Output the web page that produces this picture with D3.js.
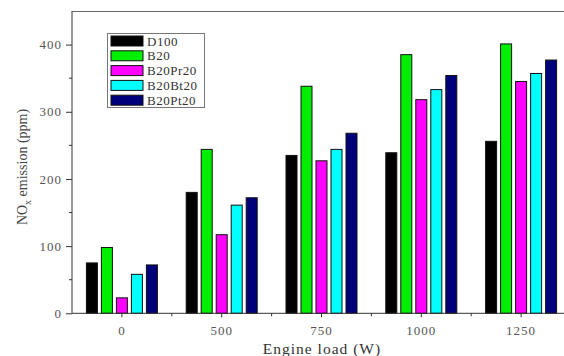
<!DOCTYPE html>
<html>
<head>
<meta charset="utf-8">
<script src="https://cdn.jsdelivr.net/npm/d3@7"></script>
<style>
  html, body { margin: 0; padding: 0; background: #fff; }
  svg { display: block; }
</style>
</head>
<body>
<svg id="chart" width="564" height="356"></svg>
<script>
// Engine load categories (W)
const loads = ["0", "500", "750", "1000", "1250"];
// Fuel blends shown in the legend
const blends = ["D100", "B20", "B20Pr20", "B20Bt20", "B20Pt20"];
const blendColors = ["#000000", "#00ee00", "#ff00ff", "#00ffff", "#00007a"];
// NOx emission (ppm) for each blend, by engine load
const d100    = [75, 180, 235, 239, 256];
const b20     = [98, 244, 338, 385, 401];
const b20pr20 = [23, 117, 227, 318, 345];
const b20bt20 = [58, 161, 244, 333, 357];
const b20pt20 = [72, 172, 268, 354, 377];
const seriesValues = [d100, b20, b20pr20, b20bt20, b20pt20];
const yTicks = [0, 100, 200, 300, 400];
const yMinorTicks = [50, 150, 250, 350];

const svg = d3.select("#chart");
const plotLeft = 72, plotTop = 11, plotBottom = 313.3, plotRight = 571;
const serif = "'Liberation Serif', 'Times New Roman', serif";

const x = d3.scaleBand().domain(loads).range([plotLeft, plotRight]);
const half = x.bandwidth() / 2;
const xInner = d3.scaleBand().domain(blends)
  .range([half - 35.5, half + 35.5]).paddingInner(4 / 15).paddingOuter(0);
const y = d3.scaleLinear().domain([0, 450]).range([plotBottom, plotTop]);

// top frame line
svg.append("line")
  .attr("x1", plotLeft).attr("x2", 564).attr("y1", plotTop + 0.5).attr("y2", plotTop + 0.5)
  .attr("stroke", "#666").attr("stroke-width", 1.2);

// bars
const groups = svg.append("g").selectAll("g")
  .data(loads)
  .join("g")
  .attr("transform", d => `translate(${x(d)},0)`);

groups.selectAll("rect")
  .data((d, i) => blends.map((b, j) => ({ blend: b, value: seriesValues[j][i], color: blendColors[j] })))
  .join("rect")
  .attr("x", d => xInner(d.blend))
  .attr("width", xInner.bandwidth())
  .attr("y", d => y(d.value))
  .attr("height", d => y(0) - y(d.value))
  .attr("fill", d => d.color)
  .attr("stroke", "#111")
  .attr("stroke-width", 1);

// y axis
const yAxis = svg.append("g")
  .attr("transform", `translate(${plotLeft},0)`)
  .call(d3.axisLeft(y).tickValues(yTicks).tickSize(6).tickPadding(4));
yAxis.select(".domain").attr("stroke", "#333").attr("d", `M0,${plotTop}V${plotBottom}`);
yAxis.selectAll(".tick line").attr("stroke", "#333");
yAxis.selectAll("text").attr("font-family", serif).attr("font-size", 13)
  .attr("letter-spacing", 1).attr("fill", "#555");

svg.append("g").selectAll("line")
  .data(yMinorTicks)
  .join("line")
  .attr("x1", plotLeft - 3).attr("x2", plotLeft)
  .attr("y1", d => y(d)).attr("y2", d => y(d))
  .attr("stroke", "#333");

// x axis
const xAxis = svg.append("g")
  .attr("transform", `translate(0,${plotBottom})`)
  .call(d3.axisBottom(x).tickSize(4).tickPadding(8));
xAxis.select(".domain").attr("stroke", "#333").attr("d", `M${plotLeft},0H564`);
xAxis.selectAll(".tick line").attr("stroke", "#333");
xAxis.selectAll("text").attr("font-family", serif).attr("font-size", 13)
  .attr("letter-spacing", 1).attr("fill", "#555");

svg.append("g").selectAll("line")
  .data(loads.slice(0, -1))
  .join("line")
  .attr("x1", d => x(d) + x.bandwidth()).attr("x2", d => x(d) + x.bandwidth())
  .attr("y1", plotBottom).attr("y2", plotBottom + 3)
  .attr("stroke", "#333");

// axis titles
svg.append("text")
  .attr("x", 322).attr("y", 354)
  .attr("text-anchor", "middle")
  .attr("font-family", serif).attr("font-size", 15.5).attr("letter-spacing", 1)
  .attr("fill", "#333")
  .text("Engine load (W)");

const yTitle = svg.append("text")
  .attr("transform", "translate(27,167) rotate(-90)")
  .attr("text-anchor", "middle")
  .attr("font-family", serif).attr("font-size", 14).attr("fill", "#444");
yTitle.append("tspan").text("NO");
yTitle.append("tspan").attr("font-size", 10).attr("dy", 4).text("x");
yTitle.append("tspan").attr("dy", -4).text(" emission (ppm)");

// legend
const legend = svg.append("g");
legend.append("rect")
  .attr("x", 107.5).attr("y", 33.5).attr("width", 97).attr("height", 74)
  .attr("fill", "#fff").attr("stroke", "#777").attr("stroke-width", 1);
const rows = legend.selectAll("g.row")
  .data(blends)
  .join("g")
  .attr("class", "row")
  .attr("transform", (d, i) => `translate(111,${41 + i * 14.8})`);
rows.append("rect")
  .attr("x", 0).attr("y", -5).attr("width", 32).attr("height", 10)
  .attr("fill", (d, i) => blendColors[i])
  .attr("stroke", "#111");
rows.append("text")
  .attr("x", 36).attr("y", 4.5)
  .attr("font-family", serif).attr("font-size", 13).attr("letter-spacing", 0.5)
  .attr("fill", "#333")
  .text(d => d);
</script>
</body>
</html>
